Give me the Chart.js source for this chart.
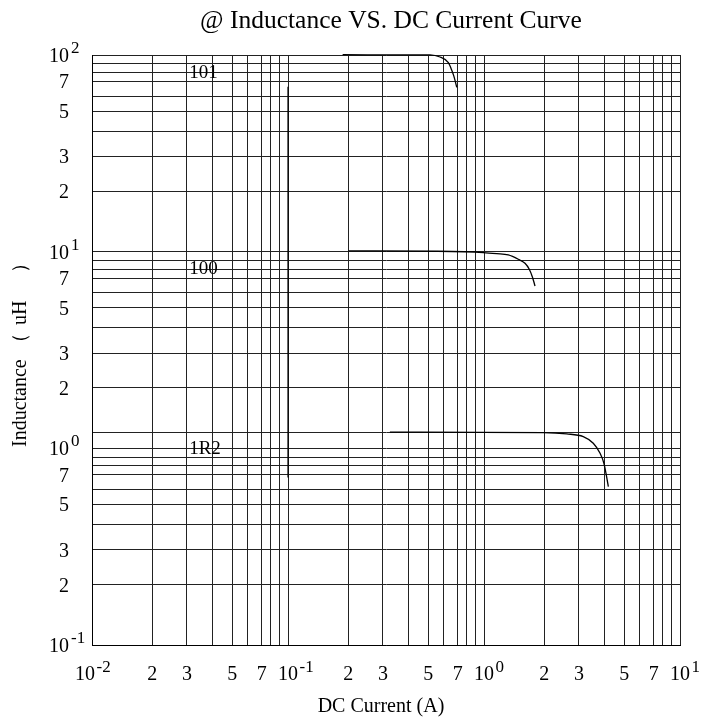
<!DOCTYPE html>
<html><head><meta charset="utf-8">
<script src="https://cdn.jsdelivr.net/npm/chart.js@4.4.0/dist/chart.umd.min.js"></script>
<style>html,body{margin:0;padding:0;background:#fff}#wrap{width:705px;height:719px;position:relative}</style>
</head><body><div id="wrap"><canvas id="c" width="705" height="719"></canvas></div>
<script>
// ---- text ----
const titleText = '@ Inductance VS. DC Current Curve';
const xTitleText = 'DC Current (A)';
const yTitleParts = ['Inductance', '（', 'uH', '）'];   // "Inductance（uH）"

// ---- axes (log-log) ----
const xDecades = [0.01, 0.1, 1, 10];
const yDecades = [0.1, 1, 10, 100];
// positions of the 1..9 grid lines inside one decade
const gridMantissa = [1, 2.03, 3.05, 4.1, 5.19, 6.18, 7.34, 8.16, 9.0];
const labelMantissaIdx = [0, 1, 2, 4, 6];          // lines that carry a label: 1(=10^n),2,3,5,7
const labelDigits = ['', '2', '3', '5', '7'];
const xExponents = ['-2', '-1', '0', '1'];
const yExponents = ['-1', '0', '1', '2'];
const yExtraGrid = [1.2];

// ---- series ----
const seriesNames = ['101', '100', '1R2'];
const s101X = [0.19, 0.53, 0.591, 0.658, 0.684, 0.703, 0.726];
const s101Y = [100.4, 100.2, 98.0, 91.4, 83.9, 77.6, 68.5];
const s100X = [0.203, 0.574, 0.992, 1.161, 1.330, 1.496, 1.619, 1.702, 1.764, 1.821];
const s100Y = [10.1, 10.05, 9.9, 9.77, 9.62, 9.15, 8.73, 8.14, 7.46, 6.69];
const s1R2X = [0.331, 2.007, 2.642, 3.21, 3.61, 3.91, 4.09, 4.19, 4.31];
const s1R2Y = [1.21, 1.202, 1.184, 1.147, 1.061, 0.944, 0.840, 0.747, 0.639];
// curve name labels (x of left edge, y of centre)
const curveLabelX = 0.0313;
const curveLabelY = [82.3, 8.23, 1.0];
// heavy vertical segment on the 10^-1 line
const markX = [0.1, 0.1];
const markY = [69, 0.71];

function buildGrid(decades, extra) {
  const out = [];
  for (let d = 0; d < decades.length - 1; d++)
    for (const m of gridMantissa) out.push(decades[d] * m);
  out.push(decades[decades.length - 1]);
  return out.concat(extra || []).sort((a, b) => a - b);
}
const xGrid = buildGrid(xDecades);
const yGrid = buildGrid(yDecades, yExtraGrid);

function buildLabels(decades, exps) {
  const out = [];
  for (let d = 0; d < decades.length; d++) {
    if (d === decades.length - 1) { out.push({v: decades[d], base: '10', exp: exps[d]}); break; }
    labelMantissaIdx.forEach((mi, k) => {
      if (k === 0) out.push({v: decades[d], base: '10', exp: exps[d]});
      else out.push({v: decades[d] * gridMantissa[mi], base: labelDigits[k], exp: ''});
    });
  }
  return out;
}
const xLabels = buildLabels(xDecades, xExponents);
const yLabels = buildLabels(yDecades, yExponents);

const pts = (xs, ys) => xs.map((x, i) => ({x, y: ys[i]}));
const SERIF = '"Liberation Serif", "Times New Roman", serif';

const textPlugin = {
  id: 'textPlugin',
  afterDraw(chart) {
    const ctx = chart.ctx, xs = chart.scales.x, ys = chart.scales.y;
    ctx.save();
    ctx.fillStyle = '#000';
    // title
    ctx.font = '25.5px ' + SERIF;
    ctx.textAlign = 'center'; ctx.textBaseline = 'alphabetic';
    ctx.fillText(titleText, 391, 28);
    // x title
    ctx.font = '20px ' + SERIF;
    ctx.fillText(xTitleText, 381, 712);
    // y title (drawn bottom-to-top)
    ctx.save();
    ctx.translate(26, 447); ctx.rotate(-Math.PI / 2);
    ctx.textBaseline = 'alphabetic'; ctx.textAlign = 'left';
    ctx.font = '20px ' + SERIF;
    ctx.fillText(yTitleParts[0], 0, 0);
    ctx.textAlign = 'center';
    ctx.fillText(yTitleParts[1], 104, 0);
    ctx.textAlign = 'left';
    ctx.fillText(yTitleParts[2], 122, 0);
    ctx.textAlign = 'center';
    ctx.fillText(yTitleParts[3], 184, 0);
    ctx.restore();
    // x tick labels
    const baseFont = '20px ' + SERIF, expFont = '17px ' + SERIF;
    xLabels.forEach((l, i) => {
      const px = xs.getPixelForValue(l.v);
      ctx.font = baseFont;
      const bw = ctx.measureText(l.base).width;
      ctx.textAlign = 'left';
      let left = px - bw / 2;
      if (i === 0) left = px - 17;
      ctx.fillText(l.base, left, 680);
      if (l.exp) { ctx.font = expFont; ctx.fillText(l.exp, left + bw + 1.5, 672); }
    });
    // y tick labels
    yLabels.forEach(l => {
      const py = ys.getPixelForValue(l.v);
      ctx.font = baseFont; ctx.textAlign = 'right';
      ctx.fillText(l.base, 69, py + 7);
      if (l.exp) { ctx.font = expFont; ctx.textAlign = 'left'; ctx.fillText(l.exp, 71, py - 2); }
    });
    // curve names
    ctx.font = '19px ' + SERIF; ctx.textAlign = 'left'; ctx.textBaseline = 'middle';
    seriesNames.forEach((n, i) => {
      ctx.fillText(n, xs.getPixelForValue(curveLabelX), ys.getPixelForValue(curveLabelY[i]) + 1);
    });
    ctx.restore();
  }
};

const lineStyle = {borderColor: '#000', borderWidth: 1.3, pointRadius: 0, showLine: true, fill: false, cubicInterpolationMode: 'monotone', clip: false};

new Chart(document.getElementById('c'), {
  type: 'scatter',
  data: {
    datasets: [
      Object.assign({label: seriesNames[0], data: pts(s101X, s101Y)}, lineStyle),
      Object.assign({label: seriesNames[1], data: pts(s100X, s100Y)}, lineStyle),
      Object.assign({label: seriesNames[2], data: pts(s1R2X, s1R2Y)}, lineStyle),
      Object.assign({label: 'mark', data: pts(markX, markY)}, lineStyle, {borderWidth: 1.2})
    ]
  },
  options: {
    responsive: false,
    animation: false,
    devicePixelRatio: 1,
    layout: {padding: {top: 55, right: 25, left: 0, bottom: 0}},
    plugins: {legend: {display: false}, tooltip: {enabled: false}, title: {display: false}},
    scales: {
      x: {
        type: 'logarithmic', min: 0.01, max: 10,
        ticks: {display: false, autoSkip: false},
        grid: {color: '#222', lineWidth: 1, drawTicks: false},
        border: {display: true, color: '#000', width: 1},
        afterBuildTicks: s => { s.ticks = xGrid.map(v => ({value: v})); },
        afterFit: s => { s.height = 74; }
      },
      y: {
        type: 'logarithmic', min: 0.1, max: 100,
        ticks: {display: false, autoSkip: false},
        grid: {color: '#222', lineWidth: 1, drawTicks: false},
        border: {display: true, color: '#000', width: 1},
        afterBuildTicks: s => { s.ticks = yGrid.map(v => ({value: v})); },
        afterFit: s => { s.width = 92; }
      }
    }
  },
  plugins: [textPlugin]
});
</script></body></html>
